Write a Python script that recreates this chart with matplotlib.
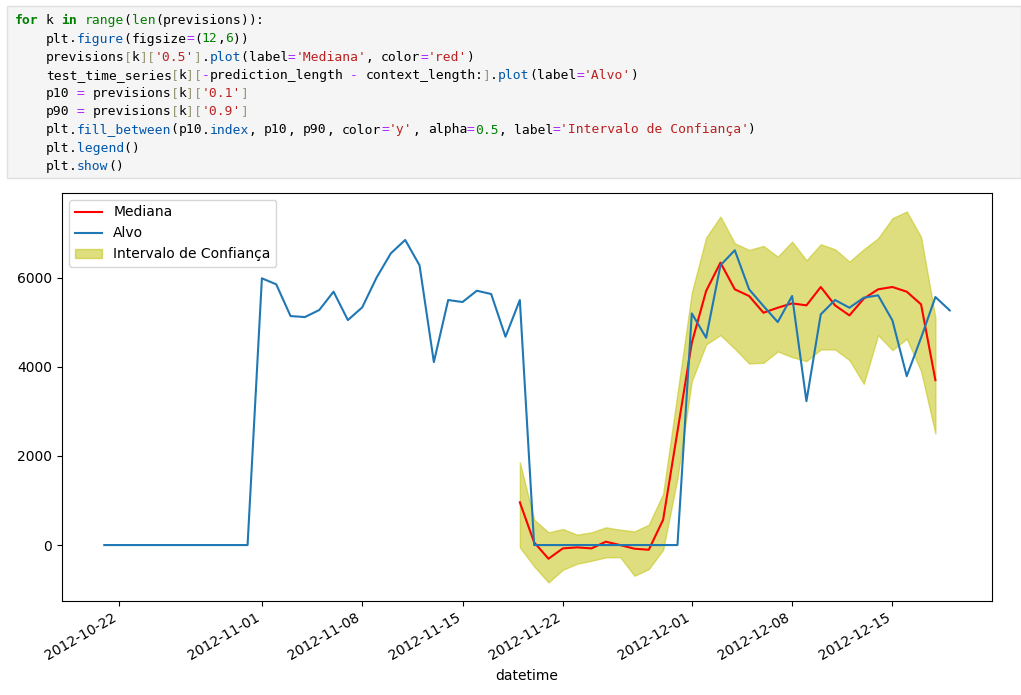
import re
import numpy as np
import pandas as pd
import matplotlib
matplotlib.use("Agg")
import matplotlib.pyplot as plt
from matplotlib.patches import Rectangle

# ── data ───────────────────────────────────────────────────────────────
alvo_start = "2012-10-21"
alvo = [0] * 11 + [
    5985, 5850, 5138, 5116, 5273, 5685, 5048, 5333, 6000, 6546,
    6846, 6277, 4105, 5498, 5453, 5707, 5632, 4674, 5498,
] + [0] * 11 + [
    5198, 4651, 6277, 6614, 5738, 5363, 5003, 5588, 3228, 5176,
    5498, 5325, 5550, 5603, 5041, 3790, 4651, 5565, 5266,
]

prev_start = "2012-11-19"
mediana = [959, 60, -307, -75, -52, -75, 75, 0, -82, -105, 569, 2549,
           4539, 5700, 6337, 5738, 5588, 5213, 5325, 5423, 5378, 5790,
           5378, 5153, 5528, 5738, 5790, 5685, 5400, 3700]
p10 = [-52, -479, -839, -554, -419, -352, -277, -270, -689, -539, -105, 1500,
       3678, 4502, 4711, 4404, 4075, 4090, 4344, 4217, 4127, 4389,
       4389, 4150, 3618, 4711, 4374, 4629, 3902, 2502]
p90 = [1858, 569, 285, 360, 232, 285, 397, 345, 307, 457, 1153, 3400,
       5662, 6898, 7370, 6771, 6621, 6711, 6471, 6808, 6389, 6748,
       6636, 6359, 6636, 6883, 7333, 7483, 6913, 5101]

code_lines = [
    "for k in range(len(previsions)):",
    "    plt.figure(figsize=(12,6))",
    "    previsions[k]['0.5'].plot(label='Mediana', color='red')",
    "    test_time_series[k][-prediction_length - context_length:].plot(label='Alvo')",
    "    p10 = previsions[k]['0.1']",
    "    p90 = previsions[k]['0.9']",
    "    plt.fill_between(p10.index, p10, p90, color='y', alpha=0.5, label='Intervalo de Confiança')",
    "    plt.legend()",
    "    plt.show()",
]

W, H = 1021, 695
fig = plt.figure(figsize=(W / 100, H / 100), dpi=100)
fig.patch.set_facecolor("white")


def px(x, y):
    return x / W, 1 - y / H


# ── code cell on top ────────────────────────────────────────────────────
fig.patches.append(Rectangle(px(7, 178), (W - 7) / W, 172 / H, transform=fig.transFigure,
                             facecolor="#f5f5f5", edgecolor="#e0e0e0", linewidth=1))

tok_re = re.compile(r"'[^']*'|\d+\.\d+|\d+|[A-Za-z_]\w*|\s+|.")
char_w = 7.8
fsize = char_w * 72 / (0.602 * 100)
for i, line in enumerate(code_lines):
    col = 0
    prev = ""
    for tok in tok_re.findall(line):
        color, weight = "#000000", "normal"
        if tok.startswith("'"):
            color = "#ba2121"
        elif tok[0].isdigit():
            color = "#008000"
        elif tok in ("for", "in"):
            color, weight = "#008000", "bold"
        elif tok in ("range", "len"):
            color = "#008000"
        elif re.match(r"[A-Za-z_]", tok) and prev == ".":
            color = "#0055aa"
        elif tok in ("=", "-"):
            color = "#aa22ff"
        elif tok in ("[", "]"):
            color = "#999977"
        if not tok.isspace():
            x, y = px(14.5 + col * char_w, 24.3 + 18.2 * i)
            fig.text(x, y, tok, fontsize=fsize, family="DejaVu Sans Mono",
                     color=color, weight=weight, va="baseline", ha="left")
            prev = tok
        col += len(tok)

# ── the chart ───────────────────────────────────────────────────────────
idx_alvo = pd.date_range(alvo_start, periods=len(alvo), freq="D")
idx_prev = pd.date_range(prev_start, periods=len(mediana), freq="D")

ax = fig.add_axes([62 / W, 1 - 601 / H, 930 / W, 408 / H])
ax.plot(idx_prev, mediana, label="Mediana", color="red")
ax.plot(idx_alvo, alvo, label="Alvo")
ax.fill_between(idx_prev, p10, p90, color="y", alpha=0.5, label="Intervalo de Confiança")
ax.legend(loc="upper left")
ax.set_xlabel("datetime")
plt.setp(ax.get_xticklabels(), rotation=30, ha="right")

fig.savefig("out.png", dpi=100)
